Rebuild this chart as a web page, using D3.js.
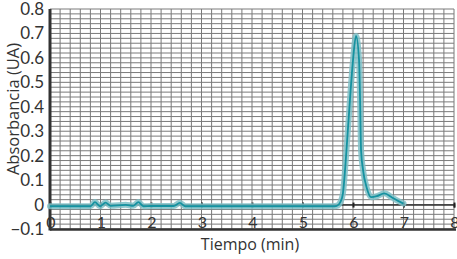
<!DOCTYPE html>
<html>
<head>
<meta charset="utf-8">
<script src="https://cdn.jsdelivr.net/npm/d3@7"></script>
<style>
  body { margin: 0; background: #fff; }
  text { font-family: Lato, "Open Sans", sans-serif; fill: #333; }
  .title { font-family: "Open Sans", Lato, sans-serif; }
</style>
</head>
<body>
<svg width="457" height="259"></svg>
<script>
// chromatogram
var tiempo = [0, 0.8, 0.89, 0.99, 1.1, 1.2, 1.5, 1.65, 1.75, 1.85, 2.0, 2.45, 2.57, 2.68, 3.0, 4.0, 5.0, 5.6,
              5.68, 5.75, 5.8, 5.87, 5.94, 6.0, 6.06, 6.12, 6.14, 6.16, 6.2, 6.27, 6.36, 6.47, 6.62, 6.78, 6.9, 7.0];
var absorbancia = [-0.007, -0.007, 0.01, -0.007, 0.008, -0.005, -0.001, -0.005, 0.01, -0.007, -0.006, -0.006, 0.007, -0.007, -0.007, -0.007, -0.007, -0.007,
                   -0.005, 0.01, 0.045, 0.22, 0.43, 0.59, 0.69, 0.59, 0.43, 0.22, 0.14, 0.07, 0.03, 0.034, 0.046, 0.028, 0.014, 0.004];
var xTicks = [0, 1, 2, 3, 4, 5, 6, 7, 8];
var yTicks = [-0.1, 0, 0.1, 0.2, 0.3, 0.4, 0.5, 0.6, 0.7, 0.8];

var data = tiempo.map(function(t, i) { return {t: t, v: absorbancia[i]}; });

var svg = d3.select("svg"),
    margin = {top: 9, right: 3, bottom: 30, left: 50},
    width = +svg.attr("width") - margin.left - margin.right,
    height = +svg.attr("height") - margin.top - margin.bottom;

var x = d3.scaleLinear().domain([0, 8]).range([0, width]),
    y = d3.scaleLinear().domain([-0.1, 0.8]).range([height, 0]);

var g = svg.append("g")
    .attr("transform", "translate(" + margin.left + "," + margin.top + ")");

// fine grid: 0.2 min by 0.02 UA
g.append("g")
  .selectAll("line")
  .data(d3.range(0, 41).map(function(i) { return i * 0.2; }))
  .enter().append("line")
    .attr("x1", function(d) { return x(d); })
    .attr("x2", function(d) { return x(d); })
    .attr("y1", 0)
    .attr("y2", height)
    .attr("stroke", "#7a7a7a")
    .attr("stroke-width", 1);

g.append("g")
  .selectAll("line")
  .data(d3.range(0, 46).map(function(i) { return -0.1 + i * 0.02; }))
  .enter().append("line")
    .attr("x1", 0)
    .attr("x2", width)
    .attr("y1", function(d) { return y(d); })
    .attr("y2", function(d) { return y(d); })
    .attr("stroke", "#7a7a7a")
    .attr("stroke-width", 1);

// zero line with ticks
g.append("g")
    .attr("transform", "translate(0," + y(0) + ")")
    .call(d3.axisBottom(x).tickValues(xTicks).tickSize(3).tickFormat(""))
    .call(function(a) {
      a.select(".domain").attr("stroke", "#333").attr("stroke-width", 1.5);
      a.selectAll(".tick line").attr("stroke", "#222").attr("stroke-width", 2).attr("y1", -2);
    });

// tick labels
g.selectAll(".xlab")
  .data(xTicks)
  .enter().append("text")
    .attr("class", "xlab")
    .attr("x", function(d) { return x(d) + 1; })
    .attr("y", height - 1)
    .attr("text-anchor", "middle")
    .attr("font-size", 16)
    .text(function(d) { return d; });

g.selectAll(".ylab")
  .data(yTicks)
  .enter().append("text")
    .attr("class", "ylab")
    .attr("x", -6)
    .attr("y", function(d) { return y(d); })
    .attr("dy", "0.35em")
    .attr("text-anchor", "end")
    .attr("font-size", 17)
    .text(function(d) { return d === 0 ? "0" : d3.format(".1f")(d); });

// frame
g.append("line")
    .attr("x1", 0).attr("x2", width + 2)
    .attr("y1", height + 0.5).attr("y2", height + 0.5)
    .attr("stroke", "#333").attr("stroke-width", 2.5);
g.append("line")
    .attr("x1", 0).attr("x2", 0)
    .attr("y1", 0).attr("y2", height + 1.5)
    .attr("stroke", "#333").attr("stroke-width", 3);

// trace
var line = d3.line()
    .x(function(d) { return x(d.t); })
    .y(function(d) { return y(d.v); })
    .curve(d3.curveMonotoneX);

g.append("path")
    .datum(data)
    .attr("d", line)
    .attr("fill", "none")
    .attr("stroke", "#7fbfc7")
    .attr("stroke-opacity", 0.85)
    .attr("stroke-width", 6)
    .attr("stroke-linejoin", "round")
    .attr("stroke-linecap", "round");

g.append("path")
    .datum(data)
    .attr("d", line)
    .attr("fill", "none")
    .attr("stroke", "#1592a0")
    .attr("stroke-width", 1.8)
    .attr("stroke-linejoin", "round");

// axis titles
svg.append("text")
    .attr("class", "title")
    .attr("x", margin.left + x(4) - 2)
    .attr("y", 250)
    .attr("text-anchor", "middle")
    .attr("font-size", 16)
    .text("Tiempo (min)");

svg.append("text")
    .attr("class", "title")
    .attr("transform", "translate(19," + 109 + ") rotate(-90)")
    .attr("text-anchor", "middle")
    .attr("font-size", 16.5)
    .text("Absorbancia (UA)");
</script>
</body>
</html>
